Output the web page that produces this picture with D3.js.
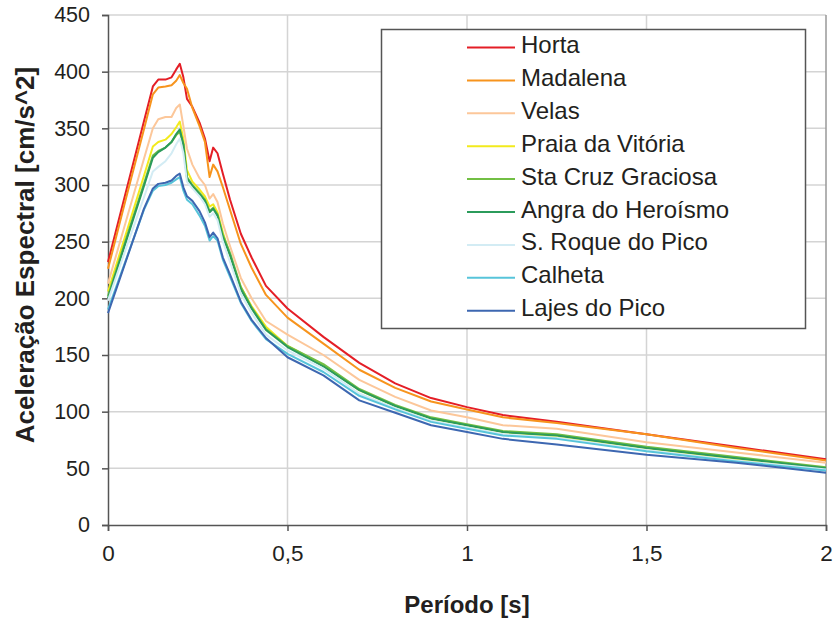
<!DOCTYPE html>
<html lang="pt">
<head>
<meta charset="UTF-8">
<title>Aceleração Espectral</title>
<script src="https://cdn.jsdelivr.net/npm/d3@7"></script>
<style>
  body { margin: 0; background: #fff; }
  svg text { font-family: "Liberation Sans", Arial, sans-serif; fill: #231f20; }
</style>
</head>
<body>
<div id="chart"></div>
<script>
// period [s]
const periods = [0, 0.05, 0.1, 0.125, 0.14, 0.16, 0.177, 0.19, 0.2, 0.21, 0.22, 0.235, 0.255, 0.27, 0.283, 0.293, 0.305, 0.32, 0.34, 0.37, 0.4, 0.44, 0.5, 0.6, 0.7, 0.8, 0.9, 1.0, 1.1, 1.25, 1.5, 1.75, 2.0];

const names = ["Horta", "Madalena", "Velas", "Praia da Vitória", "Sta Cruz Graciosa",
               "Angra do Heroísmo", "S. Roque do Pico", "Calheta", "Lajes do Pico"];
const colors = ["#e41e26", "#f7941d", "#fcc79a", "#f2ea1d", "#72bf44",
                "#2b9b5b", "#d3ecf4", "#57c4da", "#3d67b1"];

const horta     = [232, 294, 356, 387, 393, 393, 395, 402, 407, 395, 376, 369, 355, 341, 321, 333, 328, 310, 287, 257, 236, 211, 191, 166, 143, 125, 112, 104, 97, 91, 80, 69, 58];
const madalena  = [226, 288, 349, 380, 386, 387, 388, 392, 397, 390, 385, 368, 352, 338, 307, 318, 312, 298, 278, 248, 227, 203, 183, 160, 137, 121, 109, 102, 95, 90, 80, 68, 57];
const velas     = [213, 268, 323, 350, 358, 360, 360, 368, 371, 352, 332, 318, 306, 300, 288, 292, 285, 266, 246, 218, 200, 180, 168, 150, 128, 113, 101, 95, 88, 85, 73, 64, 55];
const praia     = [206, 257, 308, 334, 338, 340, 345, 351, 356, 340, 313, 303, 296, 290, 281, 283, 276, 258, 238, 210, 193, 175, 158, 141, 119, 105, 94, 88, 82, 78, 68, 58, 50];
const staCruz   = [202, 252, 301, 326, 330, 333, 338, 344, 347, 335, 307, 300, 293, 287, 277, 280, 274, 256, 240, 210, 192, 173, 158, 142, 120, 106, 95, 89, 83, 80, 69, 60, 51];
const angra     = [200, 250, 299, 324, 329, 333, 338, 345, 349, 336, 306, 299, 292, 286, 276, 279, 273, 254, 238, 208, 191, 172, 157, 140, 119, 105, 94, 88, 82, 79, 68, 59, 50];
const sRoque    = [198, 244, 289, 312, 316, 321, 328, 336, 341, 328, 303, 297, 290, 283, 272, 275, 269, 250, 232, 204, 187, 168, 154, 138, 116, 103, 92, 86, 80, 77, 66, 57, 49];
const calheta   = [190, 234, 278, 295, 299, 300, 302, 305, 307, 295, 287, 283, 273, 264, 251, 255, 251, 234, 219, 196, 180, 164, 151, 135, 114, 102, 91, 85, 79, 76, 65, 56, 48];
const lajes     = [187, 233, 279, 297, 301, 302, 304, 308, 310, 298, 290, 286, 277, 267, 254, 258, 253, 236, 221, 197, 181, 165, 148, 132, 110, 99, 88, 82, 76, 71, 62, 55, 46];

const series = [horta, madalena, velas, praia, staCruz, angra, sRoque, calheta, lajes];

const xTicks = [0, 0.5, 1, 1.5, 2];
const yTicks = [0, 50, 100, 150, 200, 250, 300, 350, 400, 450];

const w = 836, h = 621;
const padL = 108, padR = 826, padT = 15, padB = 525;

const x = d3.scaleLinear().domain([0, 2]).range([padL, padR]);
const y = d3.scaleLinear().domain([0, 450]).range([padB, padT]);

const svg = d3.select("#chart").append("svg")
    .attr("width", w)
    .attr("height", h);

// grid
svg.append("g").selectAll("line")
    .data(yTicks.slice(1))
    .join("line")
    .attr("x1", padL).attr("x2", padR)
    .attr("y1", d => y(d)).attr("y2", d => y(d))
    .attr("stroke", "#d4d4d4").attr("stroke-width", 1.5);
svg.append("g").selectAll("line")
    .data(xTicks.slice(1, -1))
    .join("line")
    .attr("x1", d => x(d)).attr("x2", d => x(d))
    .attr("y1", padT).attr("y2", padB)
    .attr("stroke", "#d4d4d4").attr("stroke-width", 1.5);
// right border
svg.append("line")
    .attr("x1", padR).attr("x2", padR)
    .attr("y1", padT).attr("y2", padB)
    .attr("stroke", "#999").attr("stroke-width", 1.5);

// axes
const fmt = d => String(d).replace(".", ",");
const xAxis = svg.append("g")
    .attr("transform", "translate(0," + padB + ")")
    .call(d3.axisBottom(x).tickValues(xTicks).tickFormat(fmt).tickSize(6).tickPadding(14));
const yAxis = svg.append("g")
    .attr("transform", "translate(" + padL + ",0)")
    .call(d3.axisLeft(y).tickValues(yTicks).tickSize(6).tickPadding(12));

[xAxis, yAxis].forEach(g => {
  g.select(".domain").attr("stroke", "#555").attr("stroke-width", 1.5);
  g.selectAll(".tick line").attr("stroke", "#555").attr("stroke-width", 1.5);
  g.selectAll(".tick text").style("font-size", "21.5px").attr("fill", "#231f20");
});
xAxis.selectAll(".tick text").style("font-size", "22.5px");

// lines
const line = d3.line()
    .x((d, i) => x(periods[i]))
    .y(d => y(d));

svg.append("g").selectAll("path")
    .data(series)
    .join("path")
    .attr("d", line)
    .attr("fill", "none")
    .attr("stroke", (d, i) => colors[i])
    .attr("stroke-width", 2)
    .attr("stroke-linejoin", "round");

// legend
const lg = svg.append("g");
lg.append("rect")
    .attr("x", 381.5).attr("y", 29.5)
    .attr("width", 424).attr("height", 299)
    .attr("fill", "#fff").attr("stroke", "#555").attr("stroke-width", 1.5);
const rows = lg.selectAll("g")
    .data(names)
    .join("g")
    .attr("transform", (d, i) => "translate(0," + (47.5 + i * 32.9) + ")");
rows.append("line")
    .attr("x1", 467).attr("x2", 515)
    .attr("stroke", (d, i) => colors[i])
    .attr("stroke-width", 2);
rows.append("text")
    .attr("x", 521).attr("y", 5.5)
    .style("font-size", "24px")
    .text(d => d);

// axis titles
svg.append("text")
    .attr("x", 467).attr("y", 613)
    .attr("text-anchor", "middle")
    .style("font-size", "24px").style("font-weight", "bold")
    .text("Período [s]");
svg.append("text")
    .attr("transform", "translate(34,255) rotate(-90)")
    .attr("text-anchor", "middle")
    .style("font-size", "26px").style("font-weight", "bold")
    .text("Aceleração Espectral [cm/s^2]");
</script>
</body>
</html>
